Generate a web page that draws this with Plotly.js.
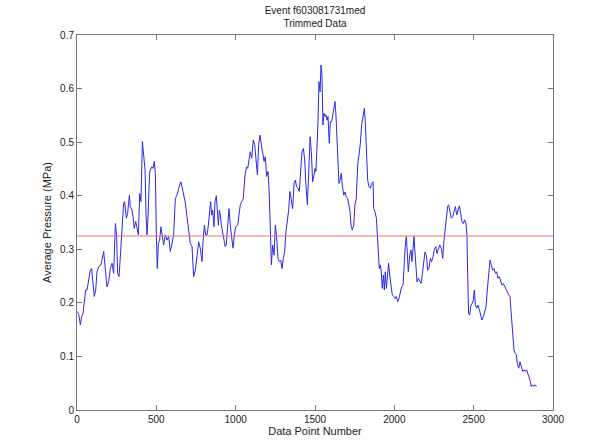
<!DOCTYPE html>
<html>
<head>
<meta charset="utf-8">
<script src="https://cdn.plot.ly/plotly-3.0.1.min.js"></script>
<style>html,body{margin:0;padding:0;background:#fff;}#chart{width:609px;height:443px;}</style>
</head>
<body>
<div id="chart"></div>
<script>
// Data point numbers (x) and average pressure in MPa (y)
const pointNumber = [
0,10,21,29,38,46,55,63,74,84,92,101,109,118,126,137,151,168,176,189,200,210,221,231,242,250,256,265,273,284,294,300,311,319,330,336,347,353,361,370,378,387,395,403,412,418,429,435,441,447,458,471,479,487,494,500,506,513,521,529,538,546,557,567,578,588,597,609,620,630,641,655,668,683,693,704,714,725,735,746,756,767,777,788,
794,803,811,820,828,836,842,849,855,863,870,878,884,891,897,904,910,918,927,933,941,950,958,966,975,983,992,1000,1013,1021,1029,1038,1048,1059,1069,1076,1084,1092,1101,1111,1120,1128,1137,1145,1153,1162,1170,1179,1187,1195,1204,1210,1218,1225,1233,1242,1250,1258,1267,1275,1284,1292,1300,1309,1317,1326,1334,1342,1351,1359,1368,1376,1384,1393,1401,1410,1418,1427,1435,1443,1452,1460,1469,1477,1485,1494,
1500,1506,1513,1519,1525,1532,1538,1544,1550,1557,1563,1569,1576,1582,1590,1597,1605,1611,1618,1626,1632,1639,1645,1651,1658,1666,1672,1681,1689,1697,1706,1712,1721,1727,1735,1744,1752,1760,1769,1777,1786,1794,1803,1811,1817,1824,1832,1840,1849,1857,1866,1870,1878,1887,1893,1899,1905,1912,1918,1924,1931,1937,1943,1950,1958,1964,1971,1979,1987,1996,2004,2013,2021,2029,2038,2046,2055,2063,2069,2076,2082,2088,2097,2105,2111,2118,2124,2130,2137,2143,2151,2160,2168,2176,2185,2193,2202,2210,2218,2227,2235,2244,2252,2261,2269,2277,2286,
2296,2305,2313,2321,2328,2336,2342,2351,2359,2368,2376,2385,2393,2401,2410,2418,2426,2435,2443,2452,2458,2462,2468,2475,2481,2490,2498,2504,2511,2519,2527,2536,2544,2552,2561,2569,2578,2586,2595,2603,2611,2620,2628,2637,2645,2653,2662,2670,2678,2687,2695,2704,2712,2721,2729,2735,2742,2748,2754,2761,2769,2775,2784,2792,2800,2809,2817,2826,2834,2842,2851,2857,2863,2872,2880,2889,2895
];
const avgPressure = [
0.184,0.180,0.159,0.174,0.180,0.205,0.224,0.224,0.246,0.261,0.264,0.230,0.212,0.224,0.258,0.268,0.271,0.296,0.268,0.230,0.240,0.264,0.274,0.255,0.348,0.324,0.255,0.249,0.286,0.330,0.386,0.389,0.358,0.367,0.401,0.380,0.373,0.361,0.339,0.352,0.339,0.327,0.404,0.389,0.501,0.479,0.448,0.367,0.327,0.355,0.445,0.454,0.451,0.464,0.442,0.327,0.264,0.311,0.317,0.342,0.327,0.308,0.327,0.317,0.324,0.296,0.308,0.327,0.395,0.401,0.414,0.426,0.408,0.386,0.361,0.330,0.311,0.305,0.249,0.261,0.292,0.314,0.302,0.277,
0.314,0.345,0.327,0.327,0.345,0.370,0.389,0.364,0.373,0.342,0.389,0.400,0.364,0.345,0.373,0.364,0.345,0.327,0.317,0.305,0.308,0.345,0.376,0.345,0.314,0.302,0.327,0.342,0.345,0.370,0.383,0.389,0.395,0.439,0.454,0.451,0.470,0.482,0.470,0.504,0.495,0.464,0.439,0.495,0.513,0.495,0.476,0.464,0.473,0.436,0.445,0.414,0.345,0.271,0.308,0.289,0.345,0.324,0.283,0.277,0.280,0.264,0.283,0.296,0.333,0.352,0.373,0.408,0.392,0.376,0.423,0.429,0.417,0.414,0.408,0.439,0.482,0.488,0.467,0.420,0.383,0.439,0.510,0.482,0.426,0.439,
0.451,0.445,0.482,0.538,0.613,0.594,0.644,0.625,0.532,0.554,0.548,0.551,0.541,0.548,0.498,0.538,0.538,0.551,0.566,0.576,0.551,0.507,0.463,0.423,0.429,0.442,0.420,0.401,0.407,0.398,0.395,0.383,0.370,0.345,0.336,0.345,0.383,0.395,0.457,0.476,0.498,0.532,0.554,0.563,0.538,0.470,0.429,0.417,0.414,0.423,0.426,0.376,0.370,0.358,0.324,0.289,0.264,0.271,0.258,0.227,0.252,0.224,0.258,0.227,0.264,0.274,0.252,0.227,0.215,0.212,0.208,0.212,0.202,0.208,0.221,0.230,0.233,0.283,0.308,0.324,0.283,0.258,0.289,0.299,0.277,0.299,0.324,0.295,0.264,0.239,0.246,0.239,0.236,0.252,0.283,0.295,0.289,0.261,0.264,0.283,0.277,0.286,0.299,0.305,0.292,0.299,0.308,
0.302,0.283,0.317,0.342,0.355,0.380,0.383,0.367,0.358,0.361,0.370,0.380,0.364,0.373,0.381,0.367,0.352,0.348,0.355,0.348,0.324,0.255,0.181,0.177,0.193,0.199,0.205,0.224,0.196,0.190,0.196,0.187,0.177,0.168,0.174,0.184,0.193,0.224,0.255,0.280,0.271,0.261,0.264,0.255,0.258,0.246,0.249,0.240,0.233,0.236,0.230,0.227,0.221,0.215,0.212,0.187,0.156,0.137,0.112,0.106,0.103,0.087,0.078,0.090,0.081,0.072,0.075,0.072,0.075,0.065,0.059,0.053,0.044,0.047,0.044,0.047,0.044
];
// Mean pressure reference line
const meanX = [0, 3000];
const meanPressure = [0.3248, 0.3248];

const xTicks = [0, 500, 1000, 1500, 2000, 2500, 3000];
const yTicks = [0, 0.1, 0.2, 0.3, 0.4, 0.5, 0.6, 0.7];
const yTickText = ['0', '0.1', '0.2', '0.3', '0.4', '0.5', '0.6', '0.7'];

const traces = [
  {x: pointNumber, y: avgPressure, type: 'scatter', mode: 'lines',
   line: {color: '#2a2ae8', width: 1}, hoverinfo: 'skip'},
  {x: meanX, y: meanPressure, type: 'scatter', mode: 'lines',
   line: {color: '#f07070', width: 1}, hoverinfo: 'skip'}
];

const axisCommon = {
  showgrid: false, zeroline: false, showline: true, linecolor: '#777', linewidth: 1,
  mirror: 'ticks', ticks: 'inside', ticklen: 5, tickcolor: '#777', tickwidth: 1,
  tickfont: {family: 'Liberation Sans, Arial, sans-serif', size: 10, color: '#222'}
};

const layout = {
  width: 609, height: 443,
  margin: {l: 77, r: 56, t: 35, b: 33},
  paper_bgcolor: '#fff', plot_bgcolor: '#fff',
  showlegend: false,
  title: {text: 'Event f603081731med<br>Trimmed Data',
          font: {family: 'Liberation Sans, Arial, sans-serif', size: 10, color: '#222'},
          x: 0.5, xref: 'paper', xanchor: 'center',
          y: 0.968, yref: 'container', yanchor: 'top'},
  xaxis: Object.assign({}, axisCommon, {
    range: [0, 3000], tickvals: xTicks, ticktext: xTicks.map(String),
    title: {text: 'Data Point Number', standoff: 2,
            font: {family: 'Liberation Sans, Arial, sans-serif', size: 11, color: '#222'}}
  }),
  yaxis: Object.assign({}, axisCommon, {
    range: [0, 0.7], tickvals: yTicks, ticktext: yTickText,
    title: {text: 'Average Pressure (MPa)', standoff: 6,
            font: {family: 'Liberation Sans, Arial, sans-serif', size: 11, color: '#222'}}
  })
};

Plotly.newPlot('chart', traces, layout, {displayModeBar: false, staticPlot: true});
</script>
</body>
</html>
